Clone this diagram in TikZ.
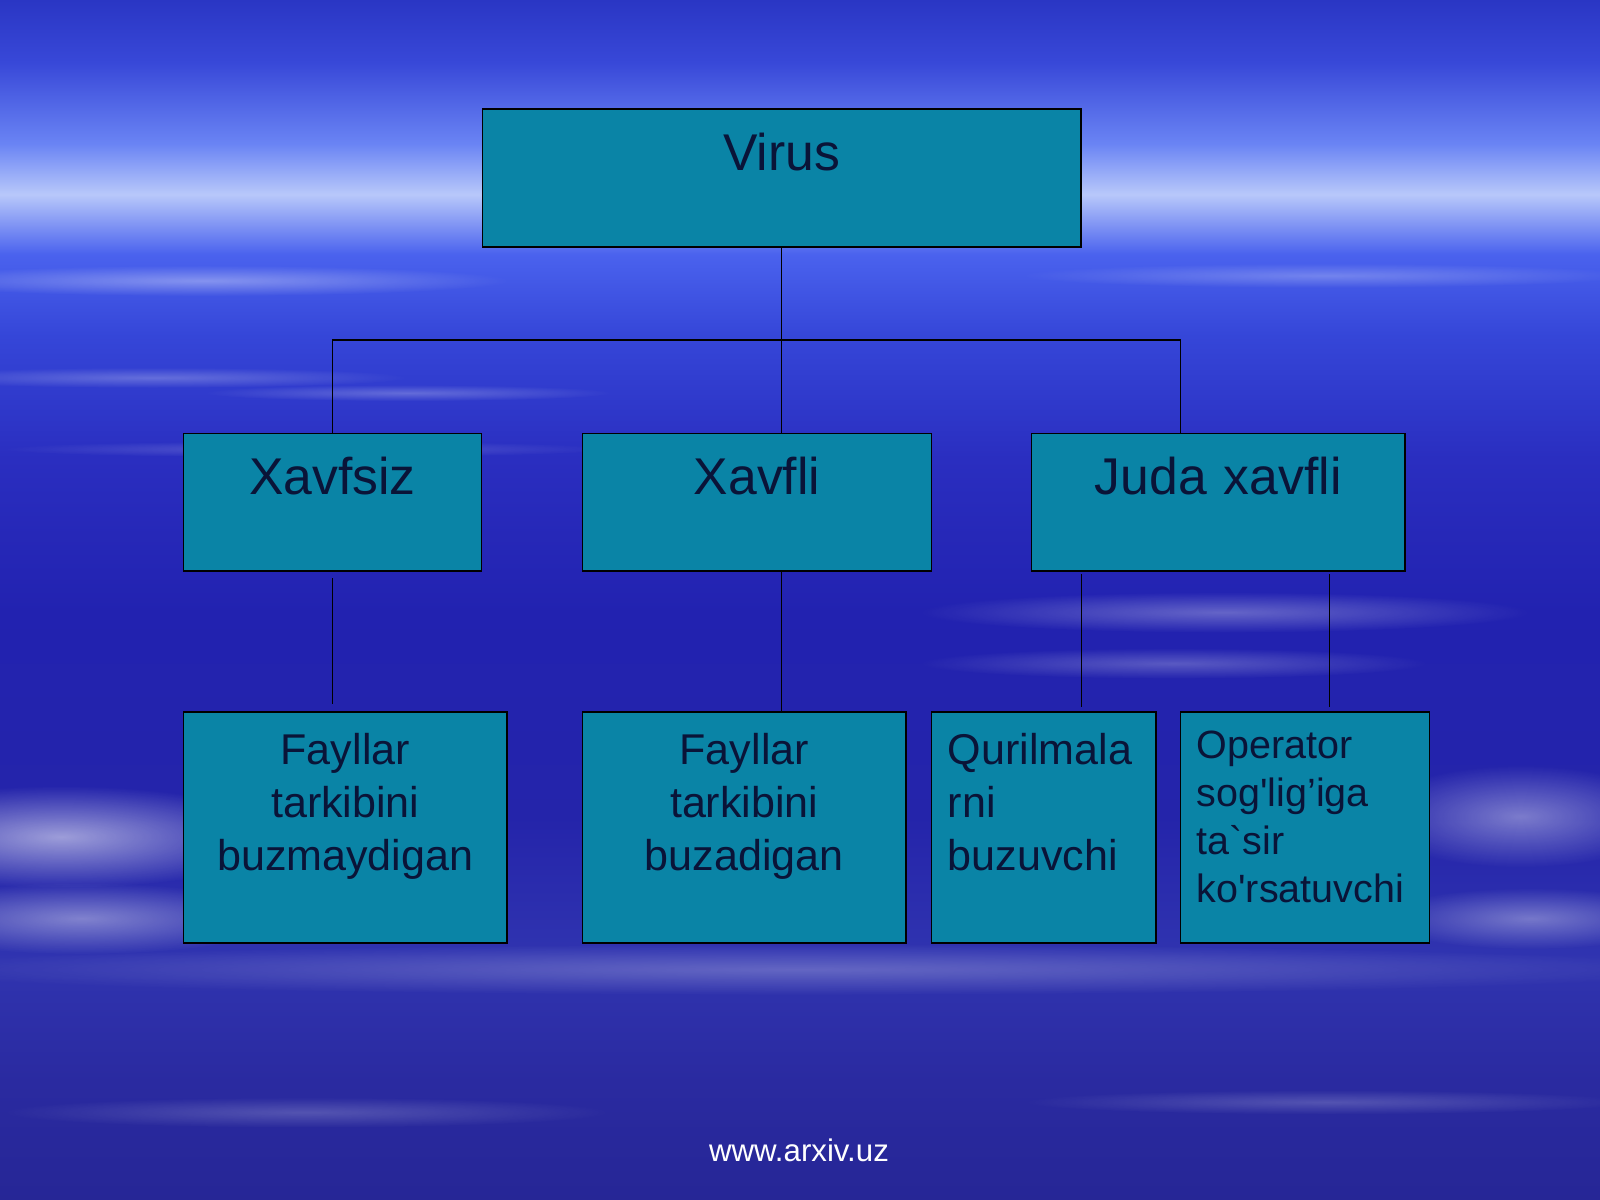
\documentclass[tikz,border=0pt]{standalone}
\usepackage{fontspec}
\setmainfont{Liberation Sans}[Ligatures=TeXOff]
\usetikzlibrary{fadings}
\definecolor{boxfill}{HTML}{0A84A6}
\definecolor{inkblue}{HTML}{0A1438}
\definecolor{sky0}{HTML}{262696}
\definecolor{sky1}{HTML}{2A2AA0}
\definecolor{sky2}{HTML}{3034B0}
\definecolor{sky3}{HTML}{2424AA}
\definecolor{sky4}{HTML}{2222B0}
\definecolor{sky5}{HTML}{2A2EC0}
\definecolor{sky6}{HTML}{3546D8}
\definecolor{sky7}{HTML}{4A62EE}
\definecolor{sky8}{HTML}{B8C8FA}
\definecolor{sky9}{HTML}{6A84F4}
\definecolor{sky10}{HTML}{3848D8}
\definecolor{sky11}{HTML}{2A36C4}
\pgfdeclareverticalshading{skyback}{100bp}{
  color(0bp)=(sky0); color(25bp)=(sky0); color(29.9bp)=(sky1); color(35bp)=(sky2);
  color(41bp)=(sky3); color(49.5bp)=(sky4); color(55.9bp)=(sky5); color(61bp)=(sky6);
  color(64.4bp)=(sky7); color(66.9bp)=(sky8); color(69bp)=(sky9); color(72.4bp)=(sky10);
  color(75bp)=(sky11); color(100bp)=(sky11)}
\tikzfading[name=cloudfade,inner color=transparent!0,outer color=transparent!100]
\tikzset{
  boxbase/.style={draw=black,line width=0.45pt,fill=boxfill,text=inkblue,anchor=north west,inner sep=0pt},
  headbox/.style={boxbase,font=\fontsize{14.4pt}{17pt}\selectfont,align=center,text height=0.60cm,text depth=0.75cm},
  leafbox/.style={boxbase,font=\fontsize{12pt}{14.8pt}\selectfont,align=center,text height=0.51cm,text depth=1.75cm},
  leftbox/.style={leafbox,align=left,inner xsep=0.16cm},
  link/.style={draw=black,line width=0.45pt},
  streak/.style={fill=white,path fading=cloudfade},
}
\begin{document}
\begin{tikzpicture}[x=0.01cm,y=-0.01cm]
  \useasboundingbox (0,0) rectangle (1568,1176);
  % sky
  \shade[shading=skyback] (0,0) rectangle (1568,1176);
  \fill[streak,opacity=0.35] (200,275) ellipse (300 and 15);
  \fill[streak,opacity=0.25] (1300,270) ellipse (300 and 12);
  \fill[streak,opacity=0.25] (150,370) ellipse (250 and 10);
  \fill[streak,opacity=0.25] (400,385) ellipse (200 and 8);
  \fill[streak,opacity=0.2] (300,440) ellipse (300 and 8);
  \fill[streak,opacity=0.55] (60,820) ellipse (220 and 50);
  \fill[streak,opacity=0.4] (80,900) ellipse (200 and 35);
  \fill[streak,opacity=0.4] (1490,800) ellipse (150 and 50);
  \fill[streak,opacity=0.35] (1500,900) ellipse (150 and 30);
  \fill[streak,opacity=0.3] (1200,600) ellipse (300 and 20);
  \fill[streak,opacity=0.25] (1150,650) ellipse (250 and 15);
  \fill[streak,opacity=0.25] (784,950) ellipse (900 and 25);
  \fill[streak,opacity=0.2] (300,1090) ellipse (300 and 15);
  \fill[streak,opacity=0.2] (1300,1080) ellipse (300 and 12);
  %
  % top and middle boxes
  \draw (472,106) node[headbox,text width=5.86cm] (virus) {Virus};
  \draw (179,424) node[headbox,text width=2.92cm] (xavfsiz) {Xavfsiz};
  \draw (570,424) node[headbox,text width=3.42cm] (xavfli) {Xavfli};
  \draw (1010,424) node[headbox,text width=3.66cm] (juda) {Juda xavfli};
  % bottom boxes
  \draw (179,697) node[leafbox,text width=3.17cm] (fayl1) {Fayllar\\tarkibini\\buzmaydigan};
  \draw (570,697) node[leafbox,text width=3.17cm] (fayl2) {Fayllar\\tarkibini\\buzadigan};
  \draw (912,697) node[leftbox,text width=1.88cm] (quril) {Qurilmala\\rni\\buzuvchi};
  \draw (1156,697) node[leftbox,text width=2.12cm,font=\fontsize{11pt}{13.3pt}\selectfont,
    text height=0.46cm,text depth=1.80cm] (oper) {Operator\\sog'lig’iga\\ta`sir\\ko'rsatuvchi};
  %
  % upper edges
  \draw[link] (virus.south) -- (virus.south |- xavfli.north);
  \draw[link] (xavfsiz.north) -- ++(0,-91) -| ([xshift=-0.37cm]juda.north);
  % lower edges
  \draw[link,shorten <=0.06cm,shorten >=0.07cm] (xavfsiz.south) -- (xavfsiz.south |- fayl1.north);
  \draw[link] ([xshift=0.24cm]xavfli.south) -- ([xshift=0.24cm]xavfli.south |- fayl2.north);
  \draw[link,shorten <=0.02cm,shorten >=0.04cm] ([xshift=-1.34cm]juda.south) -- ([xshift=-1.34cm]juda.south |- quril.north);
  \draw[link,shorten <=0.02cm,shorten >=0.04cm] ([xshift=1.09cm]juda.south) -- ([xshift=1.09cm]juda.south |- oper.north);
  %
  \node[text=white,font=\fontsize{8.7pt}{10pt}\selectfont,anchor=base] (site) at (783,1138) {www.arxiv.uz};
\end{tikzpicture}
\end{document}
